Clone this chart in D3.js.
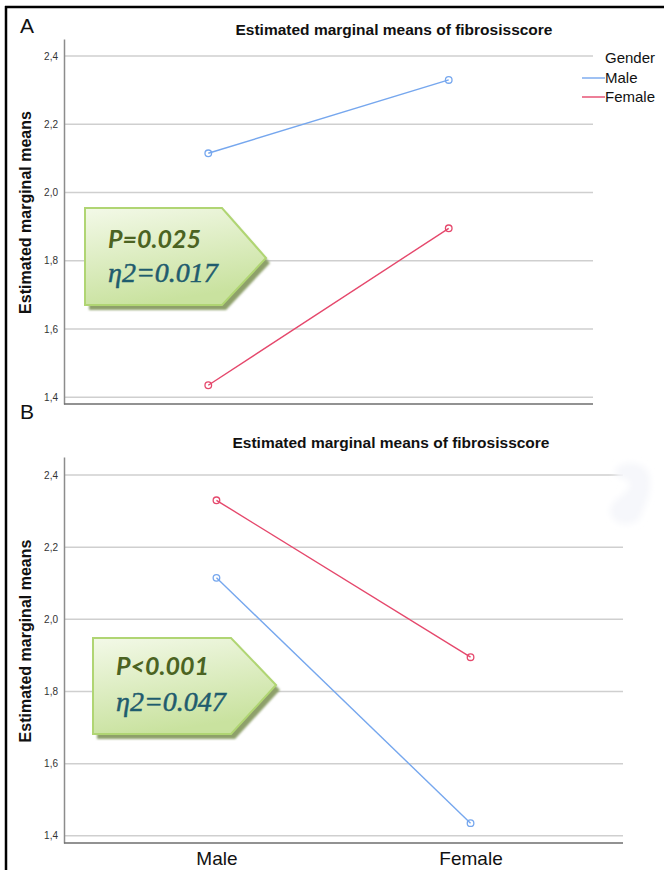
<!DOCTYPE html>
<html>
<head>
<meta charset="utf-8">
<script src="https://cdn.jsdelivr.net/npm/d3@7"></script>
<style>
  html, body { margin: 0; padding: 0; background: #fff; }
  svg { display: block; }
</style>
</head>
<body>
<svg id="chart" width="664" height="870"></svg>
<script>
// ---------------- DATA ----------------
const categories = ["Male", "Female"];
const seriesNames = ["Male", "Female"];
// Panel A: lines per Gender
const panelAMale = [2.115, 2.330];
const panelAFemale = [1.435, 1.895];
// Panel B
const panelBRed = [2.330, 1.895];
const panelBBlue = [2.115, 1.435];
const yTicks = [1.4, 1.6, 1.8, 2.0, 2.2, 2.4];
const titleText = "Estimated marginal means of fibrosisscore";
const yTitle = "Estimated marginal means";
const annotA = ["P=0.025", "\u03B72=0.017"];
const annotB = ["P<0.001", "\u03B72=0.047"];

const BLUE = "#76a7ee";
const RED = "#e5486c";

const svg = d3.select("#chart");
const defs = svg.append("defs");
const grad = defs.append("linearGradient").attr("id", "boxGrad")
  .attr("x1", "0").attr("y1", "0").attr("x2", "0.3").attr("y2", "1");
grad.append("stop").attr("offset", "0%").attr("stop-color", "#f3f9e8");
grad.append("stop").attr("offset", "100%").attr("stop-color", "#c9e29f");
defs.append("filter").attr("id", "blur").append("feGaussianBlur").attr("stdDeviation", 1.2);
defs.append("filter").attr("id", "blur2").append("feGaussianBlur").attr("stdDeviation", 3);

const fmt = v => d3.format(".1f")(v).replace(".", ",");

// outer frame
svg.append("line").attr("x1", 6).attr("x2", 6).attr("y1", 6).attr("y2", 870)
  .attr("stroke", "#000").attr("stroke-width", 2.5);
svg.append("line").attr("x1", 5).attr("x2", 664).attr("y1", 7).attr("y2", 7)
  .attr("stroke", "#000").attr("stroke-width", 2.5);

function panel(cfg) {
  const g = svg.append("g");
  const x = d3.scalePoint().domain(categories).range([cfg.left, cfg.right]).padding(0.6);
  const y = d3.scaleLinear().domain([1.38, 2.45]).range([cfg.bottom, cfg.top]);

  // gridlines
  g.selectAll(".grid").data(yTicks).join("line")
    .attr("x1", cfg.left).attr("x2", cfg.right)
    .attr("y1", d => y(d)).attr("y2", d => y(d))
    .attr("stroke", "#cfcfcf").attr("stroke-width", 1.5);

  // y axis
  const yAxis = d3.axisLeft(y).tickValues(yTicks).tickFormat(fmt).tickSize(0).tickPadding(6);
  const ya = g.append("g").attr("transform", `translate(${cfg.left},0)`).call(yAxis);
  ya.select(".domain").attr("stroke", "#8c8c8c").attr("stroke-width", 1.5);
  ya.selectAll("text").attr("font-family", "Liberation Sans, Arial, sans-serif")
    .attr("font-size", 10).attr("fill", "#333");

  // x axis
  const xAxis = d3.axisBottom(x).tickSize(0).tickPadding(9);
  const xa = g.append("g").attr("transform", `translate(0,${cfg.bottom})`).call(xAxis);
  xa.select(".domain").attr("stroke", "#6e6e6e").attr("stroke-width", 1.5)
    .attr("d", `M${cfg.left},0H${cfg.right}`);
  xa.selectAll("text").attr("font-family", "Liberation Sans, Arial, sans-serif")
    .attr("font-size", 19).attr("fill", "#111")
    .style("display", cfg.showX ? null : "none");

  // title
  g.append("text").attr("x", cfg.titleX).attr("y", cfg.titleY)
    .attr("text-anchor", "middle").attr("font-family", "Liberation Sans, Arial, sans-serif")
    .attr("font-weight", "bold").attr("font-size", 15.5).attr("fill", "#111").text(titleText);
  // panel letter
  g.append("text").attr("x", 20).attr("y", cfg.letterY)
    .attr("font-family", "Liberation Sans, Arial, sans-serif").attr("font-size", 21)
    .attr("fill", "#111").text(cfg.letter);
  // y title
  g.append("text").attr("transform", `translate(31,${(cfg.top + cfg.bottom) / 2 - 9}) rotate(-90)`)
    .attr("text-anchor", "middle").attr("font-family", "Liberation Sans, Arial, sans-serif")
    .attr("font-weight", "bold").attr("font-size", 16).attr("fill", "#111").text(yTitle);

  // lines
  const line = d3.line().x((d, i) => x(categories[i])).y(d => y(d));
  cfg.series.forEach(s => {
    g.append("path").datum(s.values).attr("d", line)
      .attr("fill", "none").attr("stroke", s.color).attr("stroke-width", 1.4);
    g.selectAll(null).data(s.values).join("circle")
      .attr("cx", (d, i) => x(categories[i])).attr("cy", d => y(d)).attr("r", 3.3)
      .attr("fill", "none").attr("stroke", s.color).attr("stroke-width", 1.3);
  });

  // annotation box
  const b = cfg.box;
  const pts = [[b.x, b.y], [b.sx, b.y], [b.tx, b.ty], [b.sx, b.y2], [b.x, b.y2]];
  const poly = p => p.map(q => q.join(",")).join(" ");
  g.append("polygon").attr("points", poly(pts.map(p => [p[0] + 4, p[1] + 5])))
    .attr("fill", "#8ea06a").attr("filter", "url(#blur)");
  g.append("polygon").attr("points", poly(pts))
    .attr("fill", "url(#boxGrad)").attr("stroke", "#b0d573").attr("stroke-width", 2);
  g.append("text").attr("x", b.x + 23).attr("y", b.l1)
    .attr("font-family", "Lato, 'Open Sans', sans-serif").attr("font-style", "italic")
    .attr("font-weight", "bold").attr("font-size", 25).attr("fill", "#4b6322").text(cfg.annot[0]);
  g.append("text").attr("x", b.x + 23).attr("y", b.l2)
    .attr("font-family", "'Liberation Serif', 'Times New Roman', serif").attr("font-style", "italic")
    .attr("font-size", 28).attr("fill", "#1f5c6e")
    .attr("stroke", "#1f5c6e").attr("stroke-width", 0.5).text(cfg.annot[1]);
  return g;
}

panel({
  left: 64, right: 593, top: 39, bottom: 404, showX: false,
  titleX: 394, titleY: 35, letter: "A", letterY: 33,
  series: [{ name: seriesNames[0], values: panelAMale, color: BLUE },
           { name: seriesNames[1], values: panelAFemale, color: RED }],
  box: { x: 85, y: 208, sx: 222, tx: 266, ty: 258, y2: 305, l1: 248, l2: 282 },
  annot: annotA
});

panel({
  left: 64, right: 623, top: 457, bottom: 843, showX: true,
  titleX: 391, titleY: 448, letter: "B", letterY: 419,
  series: [{ name: "s1", values: panelBRed, color: RED },
           { name: "s2", values: panelBBlue, color: BLUE }],
  box: { x: 93, y: 638, sx: 231, tx: 276, ty: 685, y2: 734, l1: 675, l2: 711 },
  annot: annotB
});

// legend (panel A)
const lg = svg.append("g").attr("font-family", "Liberation Sans, Arial, sans-serif")
  .attr("font-size", 15).attr("fill", "#111");
lg.append("text").attr("x", 605).attr("y", 63).text("Gender");
[{ n: seriesNames[0], c: BLUE }, { n: seriesNames[1], c: RED }].forEach((d, i) => {
  const yy = 78 + i * 19;
  lg.append("line").attr("x1", 582).attr("x2", 605).attr("y1", yy).attr("y2", yy)
    .attr("stroke", d.c).attr("stroke-width", 1.4);
  lg.append("text").attr("x", 605).attr("y", yy + 5).text(d.n);
});

// faint smudge at top-right of panel B
svg.append("path")
  .attr("d", "M614,472 C620,458 648,460 650,478 C652,496 644,506 640,518 C632,528 612,526 610,512 C608,500 628,496 630,484 C626,476 616,480 614,472 Z")
  .attr("fill", "#f6f7fb").attr("filter", "url(#blur2)");
</script>
</body>
</html>
